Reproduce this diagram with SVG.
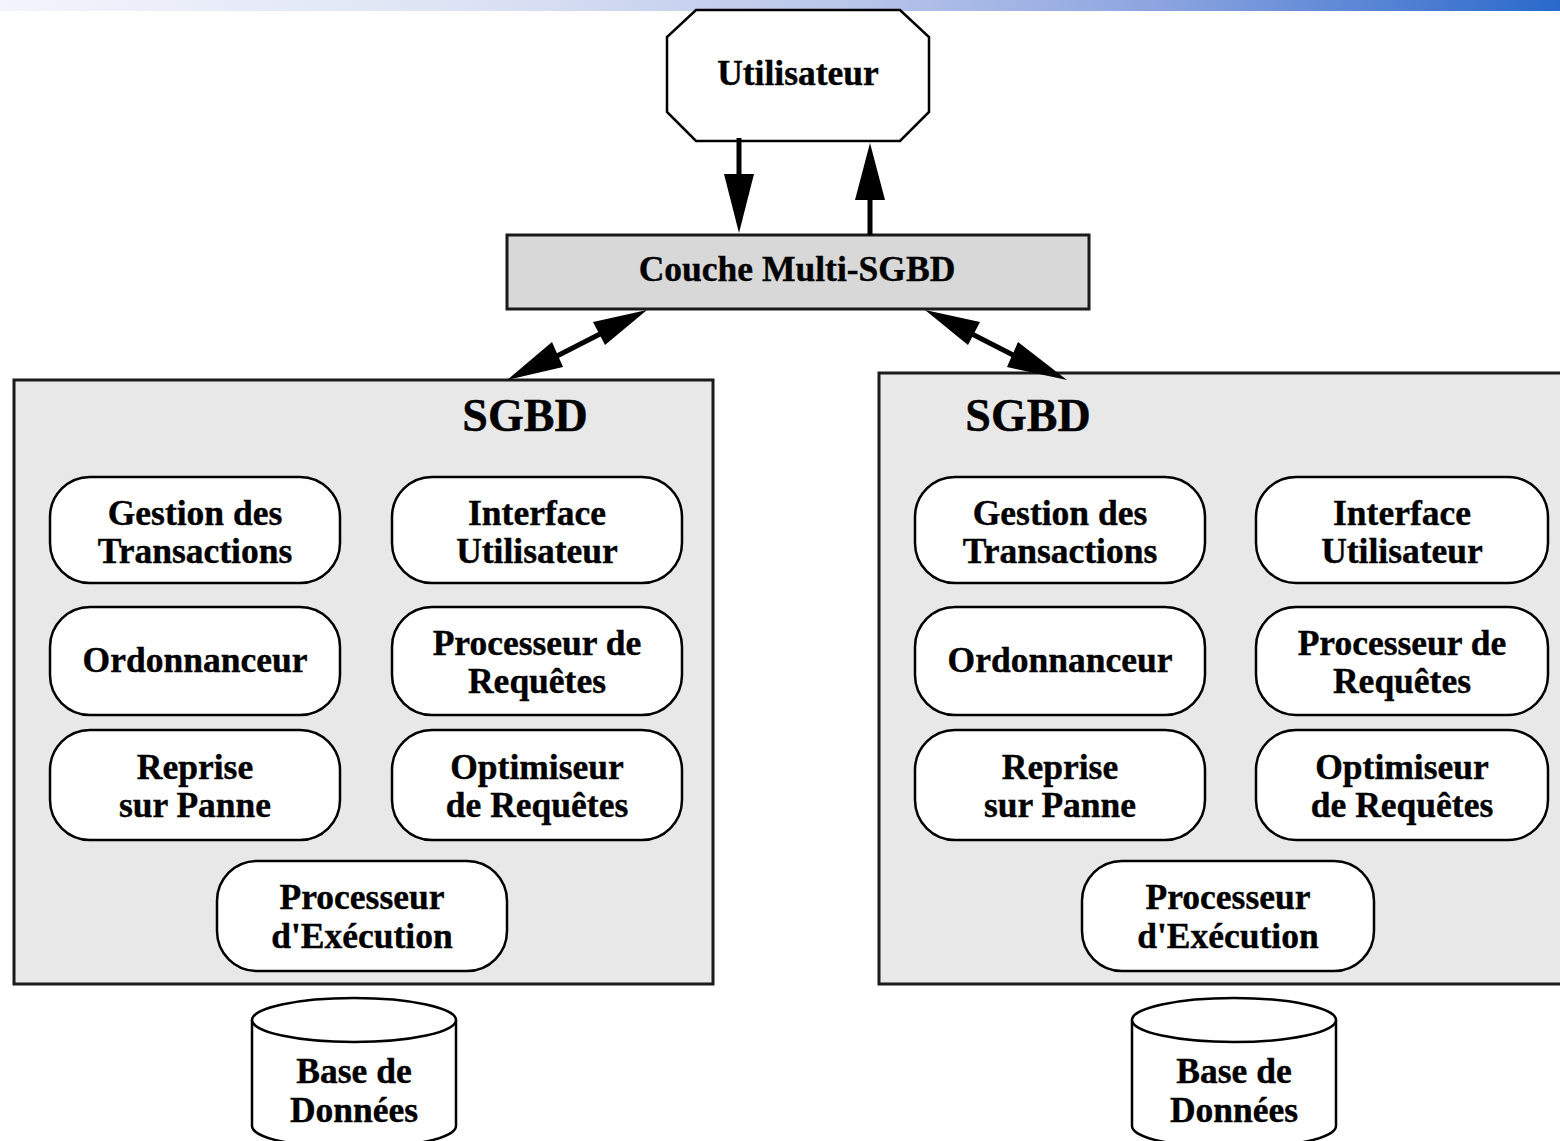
<svg xmlns="http://www.w3.org/2000/svg" width="1560" height="1141" viewBox="0 0 1560 1141">
<defs>
<linearGradient id="topbar" x1="0" y1="0" x2="1" y2="0">
<stop offset="0" stop-color="#f3f5fc"/>
<stop offset="0.3" stop-color="#dde3f4"/>
<stop offset="0.55" stop-color="#b8c5ea"/>
<stop offset="0.75" stop-color="#8aa3df"/>
<stop offset="1" stop-color="#2a69cb"/>
</linearGradient>
</defs>
<style>
.t{font-family:"Liberation Serif","Times New Roman",serif;font-weight:bold;font-size:35.5px;fill:#000;text-anchor:middle;stroke:#000;stroke-width:0.4}
.title{font-size:46px}
.mod{fill:#fff;stroke:#000;stroke-width:2.5}
.sgbd{fill:#e8e8e8;stroke:#1a1a1a;stroke-width:3}
.couche{fill:#d8d8d8;stroke:#1a1a1a;stroke-width:3}
.line{stroke:#000;stroke-width:5;fill:none}
.head{fill:#000;stroke:none}
.db{fill:#fff;stroke:#000;stroke-width:2.5}
</style>
<rect x="0" y="0" width="1560" height="11" fill="url(#topbar)"/>

<g id="utilisateur">
<polygon points="696,10 900,10 929,37 929,112 900,141 696,141 667,112 667,37" fill="#fff" stroke="#000" stroke-width="2.5"/>
<text class="t" x="798" y="85">Utilisateur</text>
</g>

<g id="couche">
<rect class="couche" x="507" y="235" width="582" height="74"/>
<text class="t" x="797" y="281">Couche Multi-SGBD</text>
</g>

<g id="sgbd-left">
<rect class="sgbd" x="14" y="380" width="699" height="604"/>
<text class="t title" x="525" y="431">SGBD</text>
</g>

<g id="sgbd-right">
<rect class="sgbd" x="879" y="373" width="690" height="611"/>
<text class="t title" x="1028" y="431">SGBD</text>
</g>

<g id="l-gestion"><rect class="mod" x="50" y="477" width="290" height="106" rx="40"/><text class="t" x="195" y="525">Gestion des</text><text class="t" x="195" y="563">Transactions</text></g>
<g id="l-interface"><rect class="mod" x="392" y="477" width="290" height="106" rx="40"/><text class="t" x="537" y="525">Interface</text><text class="t" x="537" y="563">Utilisateur</text></g>
<g id="l-ordonnanceur"><rect class="mod" x="50" y="607" width="290" height="108" rx="40"/><text class="t" x="195" y="672">Ordonnanceur</text></g>
<g id="l-processeur-req"><rect class="mod" x="392" y="607" width="290" height="108" rx="40"/><text class="t" x="537" y="655">Processeur de</text><text class="t" x="537" y="693">Requêtes</text></g>
<g id="l-reprise"><rect class="mod" x="50" y="730" width="290" height="110" rx="40"/><text class="t" x="195" y="779">Reprise</text><text class="t" x="195" y="817">sur Panne</text></g>
<g id="l-optimiseur"><rect class="mod" x="392" y="730" width="290" height="110" rx="40"/><text class="t" x="537" y="779">Optimiseur</text><text class="t" x="537" y="817">de Requêtes</text></g>
<g id="l-execution"><rect class="mod" x="217" y="861" width="290" height="110" rx="40"/><text class="t" x="362" y="909">Processeur</text><text class="t" x="362" y="948">d'Exécution</text></g>

<g id="r-gestion"><rect class="mod" x="915" y="477" width="290" height="106" rx="40"/><text class="t" x="1060" y="525">Gestion des</text><text class="t" x="1060" y="563">Transactions</text></g>
<g id="r-interface"><rect class="mod" x="1256" y="477" width="292" height="106" rx="40"/><text class="t" x="1402" y="525">Interface</text><text class="t" x="1402" y="563">Utilisateur</text></g>
<g id="r-ordonnanceur"><rect class="mod" x="915" y="607" width="290" height="108" rx="40"/><text class="t" x="1060" y="672">Ordonnanceur</text></g>
<g id="r-processeur-req"><rect class="mod" x="1256" y="607" width="292" height="108" rx="40"/><text class="t" x="1402" y="655">Processeur de</text><text class="t" x="1402" y="693">Requêtes</text></g>
<g id="r-reprise"><rect class="mod" x="915" y="730" width="290" height="110" rx="40"/><text class="t" x="1060" y="779">Reprise</text><text class="t" x="1060" y="817">sur Panne</text></g>
<g id="r-optimiseur"><rect class="mod" x="1256" y="730" width="292" height="110" rx="40"/><text class="t" x="1402" y="779">Optimiseur</text><text class="t" x="1402" y="817">de Requêtes</text></g>
<g id="r-execution"><rect class="mod" x="1082" y="861" width="292" height="110" rx="40"/><text class="t" x="1228" y="909">Processeur</text><text class="t" x="1228" y="948">d'Exécution</text></g>

<g id="db-left">
<path class="db" d="M252,1020 V1126 A102,22 0 0 0 456,1126 V1020"/>
<ellipse class="db" cx="354" cy="1020" rx="102" ry="22"/>
<text class="t" x="354" y="1083">Base de</text>
<text class="t" x="354" y="1122">Données</text>
</g>
<g id="db-right">
<path class="db" d="M1132,1020 V1126 A102,22 0 0 0 1336,1126 V1020"/>
<ellipse class="db" cx="1234" cy="1020" rx="102" ry="22"/>
<text class="t" x="1234" y="1083">Base de</text>
<text class="t" x="1234" y="1122">Données</text>
</g>

<g id="connectors">
<line class="line" x1="739" y1="138" x2="739" y2="180"/>
<polygon class="head" points="724,174 754,174 739,233"/>
<line class="line" x1="870" y1="195" x2="870" y2="235"/>
<polygon class="head" points="855,200 885,200 870,143"/>
<line class="line" x1="600" y1="334" x2="557" y2="356"/>
<polygon class="head" points="647,310 593,322 605,345"/>
<polygon class="head" points="507,380 552,342 563,367"/>
<line class="line" x1="972" y1="334" x2="1015" y2="356"/>
<polygon class="head" points="925,310 980,322 968,345"/>
<polygon class="head" points="1067,380 1018,342 1007,367"/>
</g>
</svg>
